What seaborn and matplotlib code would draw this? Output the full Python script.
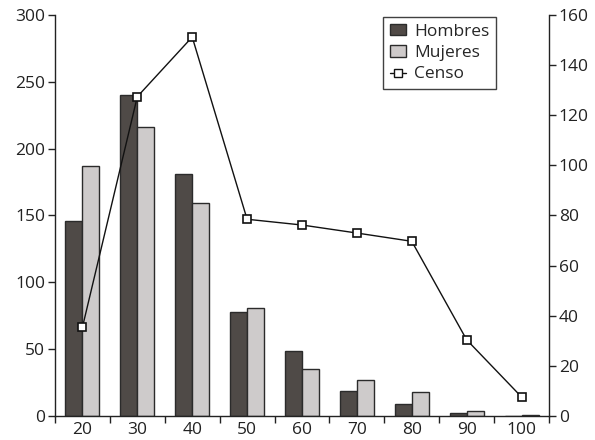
import numpy as np
import pandas as pd
import matplotlib
matplotlib.use("Agg")
import matplotlib.pyplot as plt
import seaborn as sns
from matplotlib.patches import Patch
from matplotlib.lines import Line2D
from matplotlib.ticker import FixedLocator, MultipleLocator

sns.set_theme(style="white")
plt.rcParams["font.family"] = ["Open Sans", "DejaVu Sans"]

# Age groups and counts
edades = ["20", "30", "40", "50", "60", "70", "80", "90", "100"]
hombres = [146, 240, 181, 78, 49, 19, 9, 2, 0]
mujeres = [187, 216, 159, 81, 35, 27, 18, 4, 1]
censo = [35.4, 127.4, 151.2, 78.5, 76.2, 73.0, 69.7, 30.4, 7.6]

col_h = "#504946"
col_m = "#cecaca"
edge = "#2b2b2b"

df = pd.DataFrame({
    "edad": edades * 2,
    "valor": hombres + mujeres,
    "sexo": ["Hombres"] * len(edades) + ["Mujeres"] * len(edades),
})

fig = plt.figure(figsize=(5.95, 4.4), dpi=100)
ax = fig.add_axes([0.0924, 0.0545, 0.8303, 0.9115])

sns.barplot(data=df, x="edad", y="valor", hue="sexo", order=edades,
            palette={"Hombres": col_h, "Mujeres": col_m},
            width=0.62, edgecolor=edge, linewidth=1.0, ax=ax,
            legend=False)

ax.set_xlim(-0.5, len(edades) - 0.5)
ax.set_ylim(0, 300)
ax.yaxis.set_major_locator(MultipleLocator(50))
ax.set_xlabel("")
ax.set_ylabel("")

# x axis: labels at centers, tick marks at group boundaries
ax.set_xticks(np.arange(len(edades)))
ax.set_xticklabels(edades)
ax.xaxis.set_minor_locator(FixedLocator(np.arange(-0.5, len(edades), 1.0)))
ax.tick_params(axis="x", which="major", length=0, labelsize=12.5, pad=4, colors="#222222")
ax.tick_params(axis="x", which="minor", length=5, width=1, direction="out",
               color="#222222", bottom=True)
ax.tick_params(axis="y", length=5, width=1, direction="out", labelsize=12.5,
               colors="#222222", left=True, pad=2)

for s in ["top", "right"]:
    ax.spines[s].set_visible(False)
for s in ["left", "bottom"]:
    ax.spines[s].set_color("#222222")
    ax.spines[s].set_linewidth(1.0)

# secondary axis with census line
ax2 = ax.twinx()
sns.lineplot(x=np.arange(len(edades)), y=censo, ax=ax2, color="#111111",
             linewidth=1.0, marker="s", markersize=6, markerfacecolor="white",
             markeredgecolor="#111111", markeredgewidth=1.2)
ax2.set_ylim(0, 160)
ax2.yaxis.set_major_locator(MultipleLocator(20))
ax2.tick_params(axis="y", length=5, width=1, direction="out", labelsize=12.5,
                colors="#222222", right=True, pad=2)
for s in ["top", "left", "bottom"]:
    ax2.spines[s].set_visible(False)
ax2.spines["right"].set_color("#222222")
ax2.spines["right"].set_linewidth(1.0)
ax2.set_ylabel("")

handles = [
    Patch(facecolor=col_h, edgecolor=edge, label="Hombres"),
    Patch(facecolor=col_m, edgecolor=edge, label="Mujeres"),
    Line2D([0], [0], color="#111111", linewidth=1.0, marker="s", markersize=6,
           markerfacecolor="white", markeredgecolor="#111111", label="Censo"),
]
leg = ax2.legend(handles=handles, loc="upper left", bbox_to_anchor=(0.664, 0.995),
                 frameon=True, fancybox=False, fontsize=12.5, handlelength=0.9,
                 handleheight=0.6, handletextpad=0.5, borderpad=0.4,
                 labelspacing=0.3, borderaxespad=0)
leg.get_frame().set_edgecolor("#111111")
leg.get_frame().set_linewidth(1.0)

fig.savefig("out.png", dpi=100)
